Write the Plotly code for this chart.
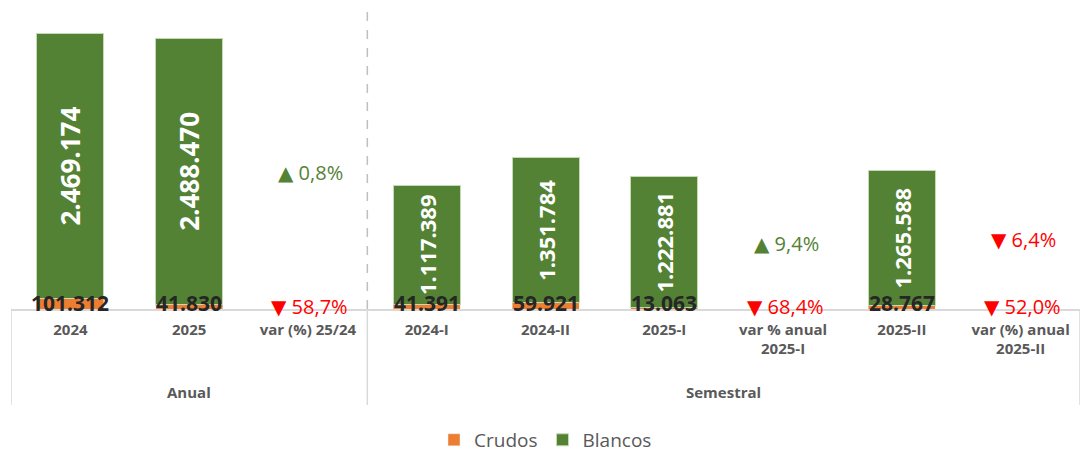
import plotly.graph_objects as go

# ---- data ----
categories = ["2024", "2025", "var (%) 25/24",
              "2024-I", "2024-II", "2025-I", "var % anual<br>2025-I",
              "2025-II", "var (%) anual<br>2025-II"]
crudos = [101312, 41830, None, 41391, 59921, 13063, None, 28767, None]
blancos = [2469174, 2488470, None, 1117389, 1351784, 1222881, None, 1265588, None]
groups = ["Anual", "Semestral"]
# variation labels (in %), shown on the "var" categories
var_blancos = [0.8, 9.4, -6.4]
var_crudos = [-58.7, -68.4, -52.0]
var_idx = [2, 6, 8]

GREEN = "#548235"
ORANGE = "#ED7D31"
RED = "#FF0000"
GRAY = "#595959"
FONT = "Open Sans"

def fmt(v):
    return f"{v:,}".replace(",", ".")

def fmt_pct(v):
    arrow = "▲" if v >= 0 else "▼"
    num = f"{abs(v):.1f}%".replace(".", ",")
    return f"<span style=\"font-family:'DejaVu Sans';font-size:20px\">{arrow}</span> {num}"

x = list(range(len(categories)))

fig = go.Figure()
fig.add_trace(go.Bar(
    x=x, y=crudos, name="Crudos", marker_color=ORANGE,
    hoverinfo="skip"))
blancos_text = [fmt(v) if v is not None else "" for v in blancos]
blancos_sizes = [26 if i < 3 else 22 for i in range(len(blancos))]
fig.add_trace(go.Bar(
    x=x, y=blancos, name="Blancos", marker_color=GREEN,
    marker_line=dict(color="#C5D9B5", width=1),
    text=blancos_text, textposition="inside", textangle=-90,
    insidetextanchor="middle", constraintext="none",
    textfont=dict(color="white", family=FONT, size=blancos_sizes, weight="bold"),
    hoverinfo="skip"))

annotations = []
# crudos value labels at base
for i, v in enumerate(crudos):
    if v is None:
        continue
    annotations.append(dict(
        x=i, y=0, xref="x", yref="y", text=f"<b>{fmt(v)}</b>", showarrow=False,
        yanchor="middle", yshift=6,
        font=dict(family=FONT, size=21, color="#262626")))

# variation labels
PX = 9347.0  # data units per pixel (for placement only)
upper_px = [137, 66, 70]
for k, i in enumerate(var_idx):
    vb = var_blancos[k]
    annotations.append(dict(
        x=i, y=upper_px[k] * PX, xref="x", yref="y", text=fmt_pct(vb),
        showarrow=False, yanchor="middle", xshift=3,
        font=dict(family=FONT, size=20, color=GREEN if vb >= 0 else RED)))
    vc = var_crudos[k]
    annotations.append(dict(
        x=i, y=0, xref="x", yref="y", text=fmt_pct(vc),
        showarrow=False, yanchor="middle", yshift=3, xshift=2,
        font=dict(family=FONT, size=20, color=GREEN if vc >= 0 else RED)))

# group labels
group_centers = [1, 5.5]
for g, c in zip(groups, group_centers):
    annotations.append(dict(
        x=c, y=-0.276, xref="x", yref="paper", text=f"<b>{g}</b>",
        showarrow=False, yanchor="middle",
        font=dict(family=FONT, size=15, color=GRAY)))

shapes = []
for xv in [-0.5, 2.5, 8.5]:
    shapes.append(dict(type="line", xref="x", yref="paper", x0=xv, x1=xv,
                       y0=0, y1=-0.319, line=dict(color="#D9D9D9", width=1.5)))
shapes.append(dict(type="line", xref="x", yref="paper", x0=2.5, x1=2.5,
                   y0=0, y1=1.0, line=dict(color="#BFBFBF", width=1.5, dash="dash")))

fig.update_layout(
    barmode="stack", bargap=0.436,
    width=1083, height=454,
    margin=dict(l=11, r=3, t=8, b=145, autoexpand=False),
    plot_bgcolor="white", paper_bgcolor="white",
    font=dict(family=FONT, color=GRAY),
    showlegend=True,
    legend=dict(orientation="h", x=0.5, xanchor="center", y=-0.435, yanchor="middle",
                font=dict(family=FONT, size=19, color=GRAY), traceorder="normal",
                itemwidth=30),
    annotations=annotations, shapes=shapes,
    xaxis=dict(tickmode="array", tickvals=x, ticktext=[f"<b>{c}</b>" for c in categories],
               range=[-0.5, 8.5], showline=True, linecolor="#D9D9D9", linewidth=1.5,
               ticks="outside", ticklen=6, tickcolor="rgba(0,0,0,0)",
               tickfont=dict(family=FONT, size=15, color=GRAY), showgrid=False,
               zeroline=False, fixedrange=True, automargin=False),
    yaxis=dict(range=[0, 301 * PX], visible=False, showgrid=False, zeroline=False,
               automargin=False, fixedrange=True),
)

fig.write_html("out.html", config={"displayModeBar": False},
               post_script="document.body.style.margin='0';document.body.style.overflow='hidden';")
